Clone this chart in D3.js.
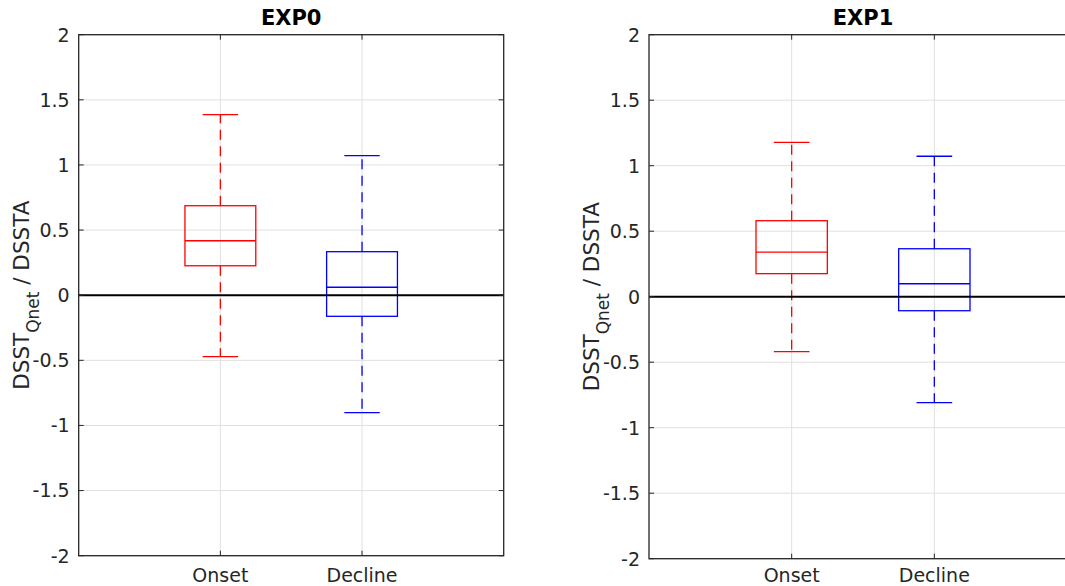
<!DOCTYPE html>
<html>
<head>
<meta charset="utf-8">
<script src="https://cdn.jsdelivr.net/npm/d3@7"></script>
<style>
  body { margin: 0; background: #fff; }
  svg { display: block; overflow: hidden; }
  text { font-family: "DejaVu Sans", sans-serif; }
</style>
</head>
<body>
<div id="grafico-container"></div>
<script>
// Categorías y ticks
const categorias = ["Onset", "Decline"];
const ticksY = [-2, -1.5, -1, -0.5, 0, 0.5, 1, 1.5, 2];
const colores = ["#ff0000", "#0000ff"];

// Estadísticas de cada caja: [bigote inferior, Q1, mediana, Q3, bigote superior]
const exp0Onset = [-0.472, 0.226, 0.418, 0.687, 1.386];
const exp0Decline = [-0.902, -0.162, 0.061, 0.334, 1.071];
const exp1Onset = [-0.420, 0.176, 0.341, 0.580, 1.178];
const exp1Decline = [-0.809, -0.107, 0.099, 0.366, 1.072];

const width = 1065;
const height = 586;

const svg = d3.select("#grafico-container").append("svg")
    .attr("width", width)
    .attr("height", height);

dibujarPanel("EXP0", [exp0Onset, exp0Decline], { left: 78.7, right: 503.7, top: 34.7, bottom: 555.7 });
dibujarPanel("EXP1", [exp1Onset, exp1Decline], { left: 649, right: 1077, top: 34.7, bottom: 558.7 });

function dibujarPanel(titulo, cajas, caja) {
    const g = svg.append("g");

    const x = d3.scaleLinear().domain([0, 3]).range([caja.left, caja.right]);
    const y = d3.scaleLinear().domain([-2, 2]).range([caja.bottom, caja.top]);

    // Rejilla
    g.selectAll(".gridY")
        .data(ticksY)
        .enter()
        .append("line")
        .attr("x1", caja.left).attr("x2", caja.right)
        .attr("y1", d => y(d)).attr("y2", d => y(d))
        .style("stroke", "#e0e0e0")
        .style("stroke-width", 1);

    g.selectAll(".gridX")
        .data(categorias)
        .enter()
        .append("line")
        .attr("x1", (d, i) => x(i + 1)).attr("x2", (d, i) => x(i + 1))
        .attr("y1", caja.top).attr("y2", caja.bottom)
        .style("stroke", "#e0e0e0")
        .style("stroke-width", 1);

    // Cajas
    cajas.forEach((s, i) => {
        const cx = x(i + 1);
        const media = x(1.25) - x(1);
        const cap = x(1.125) - x(1);
        const color = colores[i];

        // Bigotes (discontinuos)
        g.append("line")
            .attr("x1", cx).attr("x2", cx)
            .attr("y1", y(s[3])).attr("y2", y(s[4]))
            .style("stroke", color).style("stroke-width", 1.3)
            .style("stroke-dasharray", "10,6.5");
        g.append("line")
            .attr("x1", cx).attr("x2", cx)
            .attr("y1", y(s[1])).attr("y2", y(s[0]))
            .style("stroke", color).style("stroke-width", 1.3)
            .style("stroke-dasharray", "10,6.5");

        // Remates
        [s[0], s[4]].forEach(v => {
            g.append("line")
                .attr("x1", cx - cap).attr("x2", cx + cap)
                .attr("y1", y(v)).attr("y2", y(v))
                .style("stroke", color).style("stroke-width", 1.3);
        });

        // Caja
        g.append("rect")
            .attr("x", cx - media)
            .attr("y", y(s[3]))
            .attr("width", 2 * media)
            .attr("height", y(s[1]) - y(s[3]))
            .style("fill", "none")
            .style("stroke", color).style("stroke-width", 1.3);

        // Mediana
        g.append("line")
            .attr("x1", cx - media).attr("x2", cx + media)
            .attr("y1", y(s[2])).attr("y2", y(s[2]))
            .style("stroke", color).style("stroke-width", 1.3);
    });

    // Línea de cero
    g.append("line")
        .attr("x1", caja.left).attr("x2", caja.right)
        .attr("y1", y(0)).attr("y2", y(0))
        .style("stroke", "#000").style("stroke-width", 2);

    // Marcas de los ejes (hacia dentro, en los cuatro lados)
    ticksY.forEach(t => {
        [[caja.left, caja.left + 5], [caja.right, caja.right - 5]].forEach(p => {
            g.append("line")
                .attr("x1", p[0]).attr("x2", p[1])
                .attr("y1", y(t)).attr("y2", y(t))
                .style("stroke", "#262626").style("stroke-width", 1);
        });
    });
    categorias.forEach((c, i) => {
        [[caja.bottom, caja.bottom - 5], [caja.top, caja.top + 5]].forEach(p => {
            g.append("line")
                .attr("x1", x(i + 1)).attr("x2", x(i + 1))
                .attr("y1", p[0]).attr("y2", p[1])
                .style("stroke", "#262626").style("stroke-width", 1);
        });
    });

    // Marco del eje
    g.append("rect")
        .attr("x", caja.left)
        .attr("y", caja.top)
        .attr("width", caja.right - caja.left)
        .attr("height", caja.bottom - caja.top)
        .style("fill", "none")
        .style("stroke", "#262626")
        .style("stroke-width", 1.3);

    // Etiquetas de los ticks
    g.selectAll(".etiquetaY")
        .data(ticksY)
        .enter()
        .append("text")
        .attr("x", caja.left - 9)
        .attr("y", d => y(d))
        .attr("dy", "0.36em")
        .attr("text-anchor", "end")
        .text(d => d)
        .style("font-size", "19px")
        .style("fill", "#262626");

    // la etiqueta X del panel derecho queda muy cerca del borde inferior
    const baseX = Math.min(caja.bottom + 26, 581.5);
    g.selectAll(".etiquetaX")
        .data(categorias)
        .enter()
        .append("text")
        .attr("x", (d, i) => x(i + 1))
        .attr("y", baseX)
        .attr("text-anchor", "middle")
        .text(d => d)
        .style("font-size", "19px")
        .style("fill", "#262626");

    // Título
    g.append("text")
        .attr("x", (caja.left + caja.right) / 2)
        .attr("y", 25)
        .attr("text-anchor", "middle")
        .text(titulo)
        .style("font-size", "21px")
        .style("font-weight", "bold")
        .style("fill", "#000");

    // Etiqueta del eje Y con subíndice
    const ly = (caja.top + caja.bottom) / 2;
    const lx = caja.left - 50;
    const etiqueta = g.append("text")
        .attr("transform", `translate(${lx},${ly}) rotate(-90)`)
        .attr("text-anchor", "middle")
        .style("font-size", "21.5px")
        .style("fill", "#262626");
    etiqueta.append("tspan").text("DSST");
    etiqueta.append("tspan").attr("dy", 10).style("font-size", "17px").text("Qnet");
    etiqueta.append("tspan").attr("dy", -10).text(" / DSSTA");
}
</script>
</body>
</html>
